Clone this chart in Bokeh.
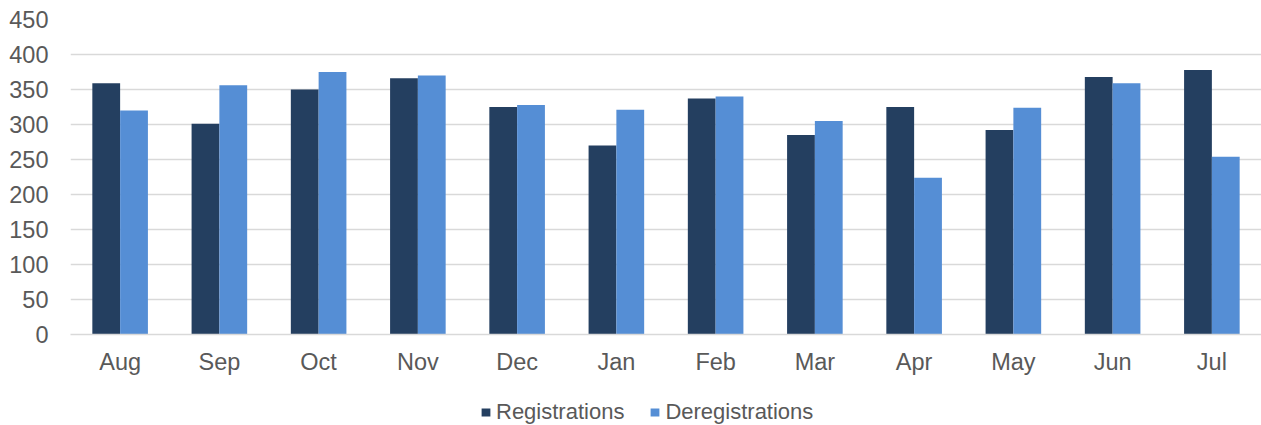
from bokeh.plotting import figure
from bokeh.layouts import column
from bokeh.models import ColumnDataSource, Legend, LegendItem, FactorRange, SingleIntervalTicker, Range1d
from bokeh.transform import dodge
from bokeh.embed import file_html
from bokeh.resources import INLINE

months = ["Aug", "Sep", "Oct", "Nov", "Dec", "Jan", "Feb", "Mar", "Apr", "May", "Jun", "Jul"]
registrations = [359, 301, 350, 366, 325, 270, 337, 285, 325, 292, 368, 378]
deregistrations = [320, 356, 375, 370, 328, 321, 340, 305, 224, 324, 359, 254]
series_names = ["Registrations", "Deregistrations"]
series_colors = ["#243F60", "#558ED5"]

src = ColumnDataSource(dict(month=months, reg=registrations, dereg=deregistrations))

FONT = "Liberation Sans"
TXT = "#595959"

p = figure(x_range=FactorRange(*months, range_padding=0), y_range=(0, 450),
           width=1261, height=377, output_backend="svg", toolbar_location=None,
           min_border_left=70, min_border_right=0, min_border_top=19, min_border_bottom=43)
p.outline_line_color = None

p.vbar(x=dodge("month", -0.14, range=p.x_range), top="reg", width=0.28, source=src,
       fill_color=series_colors[0], line_color=None)
p.vbar(x=dodge("month", 0.14, range=p.x_range), top="dereg", width=0.28, source=src,
       fill_color=series_colors[1], line_color=None)

p.xgrid.grid_line_color = None
p.ygrid.grid_line_color = "#d9d9d9"
p.ygrid.grid_line_width = 1.3

p.yaxis.ticker = SingleIntervalTicker(interval=50)
p.yaxis.axis_line_color = None
p.yaxis.major_tick_line_color = None
p.yaxis.minor_tick_line_color = None
p.yaxis.major_label_standoff = 16
for ax in (p.xaxis[0], p.yaxis[0]):
    ax.major_label_text_font = FONT
    ax.major_label_text_font_size = "23.5px"
    ax.major_label_text_color = TXT

p.xaxis.axis_line_color = "#d9d9d9"
p.xaxis.axis_line_width = 1.5
p.xaxis.major_tick_line_color = None
p.xaxis.minor_tick_line_color = None
p.xaxis.major_label_standoff = 8

# legend strip below the chart
lf = figure(width=1261, height=48, output_backend="svg", toolbar_location=None,
            x_range=Range1d(0, 1), y_range=Range1d(0, 1),
            x_axis_location=None, y_axis_location=None,
            min_border_left=0, min_border_right=0, min_border_top=0, min_border_bottom=0)
lf.grid.visible = False
lf.outline_line_color = None
# zero-height proxies, only used to draw the legend swatches
dummies = [lf.vbar(x=[0.5], top=[0], width=0.1, fill_color=c, line_color=None) for c in series_colors]

legend = Legend(items=[LegendItem(label=n, renderers=[r]) for n, r in zip(series_names, dummies)],
                orientation="horizontal", location=(410, 0),
                glyph_width=11, glyph_height=10, label_standoff=5, spacing=25,
                label_text_font=FONT, label_text_font_size="22px", label_text_color=TXT,
                border_line_color=None, background_fill_alpha=0, margin=0, padding=0)
lf.add_layout(legend, "center")

layout = column(p, lf, spacing=0)
open("out.html", "w").write(file_html(layout, INLINE))
